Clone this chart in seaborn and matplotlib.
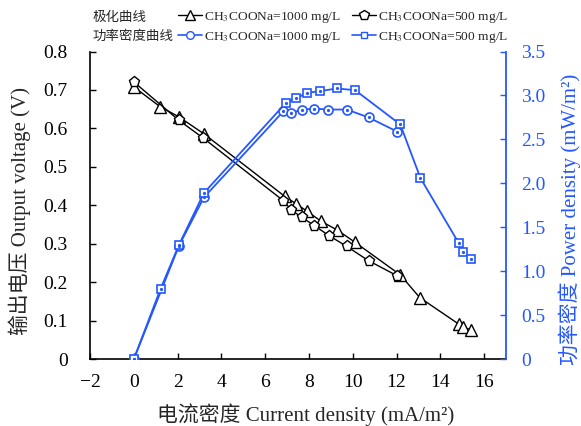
import numpy as np
import pandas as pd
import seaborn as sns
import matplotlib
matplotlib.use("Agg")
import matplotlib.pyplot as plt
from matplotlib.ticker import FuncFormatter
from matplotlib.lines import Line2D

# polarization curves (current density mA/m2, voltage V)
i_1000 = [0, 1.19, 2.06, 3.2, 6.9, 7.41, 7.93, 8.54, 9.28, 10.1, 12.17, 13.06, 14.84, 15.03, 15.42]
v_1000 = [0.708, 0.657, 0.63, 0.586, 0.423, 0.404, 0.384, 0.359, 0.336, 0.304, 0.219, 0.160, 0.091, 0.083, 0.076]
i_500 = [0, 2.06, 3.17, 6.83, 7.19, 7.67, 8.25, 8.92, 9.73, 10.72, 12.02]
v_500 = [0.721, 0.621, 0.575, 0.412, 0.388, 0.369, 0.347, 0.321, 0.293, 0.256, 0.217]

# power density curves (mW/m2)
p_circle_x = [0, 2.06, 3.2, 6.83, 7.19, 7.67, 8.24, 8.89, 9.73, 10.72, 12.02]
p_circle = [0, 1.29, 1.84, 2.82, 2.80, 2.84, 2.85, 2.84, 2.84, 2.75, 2.59]
p_square_x = [0, 1.22, 2.06, 3.2, 6.96, 7.41, 7.93, 8.51, 9.28, 10.11, 12.17, 13.09, 14.84, 15.03, 15.42]
p_square = [0, 0.80, 1.30, 1.89, 2.92, 2.97, 3.03, 3.05, 3.08, 3.06, 2.67, 2.06, 1.32, 1.22, 1.14]

sns.set_theme(style="ticks")
plt.rcParams['font.family'] = ['Liberation Serif', 'Noto Sans CJK SC']
plt.rcParams['mathtext.fontset'] = 'stix'
plt.rcParams['xtick.direction'] = 'in'
plt.rcParams['ytick.direction'] = 'in'

blue = '#2457ff'

fig = plt.figure(figsize=(5.81, 4.26), dpi=100)
ax = fig.add_axes([0.155, 0.157, 0.716, 0.722])
ax2 = ax.twinx()

sns.lineplot(x=i_1000, y=v_1000, ax=ax, color='black', lw=1.0, marker='^', ms=8,
             mfc='white', mec='black', mew=1.0, estimator=None, sort=False)
sns.lineplot(x=i_500, y=v_500, ax=ax, color='black', lw=1.0, marker='p', ms=8,
             mfc='white', mec='black', mew=1.0, estimator=None, sort=False)

sns.lineplot(x=p_circle_x, y=p_circle, ax=ax2, color=blue, lw=1.3, marker='o', ms=6.5,
             mfc='white', mec=blue, mew=1.2, estimator=None, sort=False)
sns.lineplot(x=p_square_x, y=p_square, ax=ax2, color=blue, lw=1.3, marker='s', ms=5.5,
             mfc='white', mec=blue, mew=1.2, estimator=None, sort=False)
# centre dots
ax2.plot(p_circle_x, p_circle, ls='none', marker='o', ms=1.3, color=blue)
ax2.plot(p_square_x, p_square, ls='none', marker='o', ms=1.3, color=blue)

ax.set_xlim(-2, 17)
ax.set_xticks(np.arange(-2, 17, 2))
ax.set_xticklabels([f"{t:d}".replace('-', '\u2212') for t in range(-2, 17, 2)])
ax.set_ylim(0, 0.8)
ax.set_yticks(np.arange(0, 0.81, 0.1))
ax2.set_ylim(0, 3.5)
ax2.set_yticks(np.arange(0, 3.51, 0.5))
fmt = FuncFormatter(lambda v, p: '0' if abs(v) < 1e-9 else f"{v:.1f}")
ax.yaxis.set_major_formatter(fmt)
ax2.yaxis.set_major_formatter(fmt)

for a in (ax, ax2):
    a.spines['top'].set_visible(False)
ax.spines['right'].set_visible(False)
ax2.spines['left'].set_visible(False)
ax2.spines['bottom'].set_visible(False)
for s in ('left', 'bottom'):
    ax.spines[s].set_color('black')
    ax.spines[s].set_linewidth(1.2)
ax2.spines['right'].set_color(blue)
ax2.spines['right'].set_linewidth(1.3)

ax.tick_params(axis='x', labelsize=14, length=4, width=1, colors='black', pad=11)
ax.tick_params(axis='y', labelsize=14, length=4, width=1, colors='black', pad=16)
ax2.tick_params(axis='y', labelsize=14, length=4, width=1, colors=blue, pad=11)

ax.set_xlabel("电流密度 Current density (mA/m²)", fontsize=15, va='center')
ax.xaxis.set_label_coords(0.519, -0.18)
ax.set_ylabel("输出电压 Output voltage (V)", fontsize=15, va='center')
ax.yaxis.set_label_coords(-0.168, 0.48)
ax2.set_ylabel("功率密度 Power density (mW/m²)", fontsize=15, color=blue, va='center')
ax2.yaxis.set_label_coords(1.154, 0.453)

# legend
fig.text(0.160, 0.958, "极化曲线", fontsize=9.7, va='center', ha='left')
fig.text(0.160, 0.913, "功率密度曲线", fontsize=9.7, va='center', ha='left')
handles = [
    Line2D([], [], color='black', lw=1.0, marker='^', ms=7, mfc='white', mec='black'),
    Line2D([], [], color=blue, lw=1.2, marker='o', ms=5.5, mfc='white', mec=blue),
    Line2D([], [], color='black', lw=1.0, marker='p', ms=7, mfc='white', mec='black'),
    Line2D([], [], color=blue, lw=1.2, marker='s', ms=5, mfc='white', mec=blue),
]
labels = [r"CH$_3$COONa=1000 mg/L", r"CH$_3$COONa=1000 mg/L",
          r"CH$_3$COONa=500 mg/L", r"CH$_3$COONa=500 mg/L"]
fig.legend(handles, labels, ncol=2, loc='center left', bbox_to_anchor=(0.306, 0.936),
           frameon=False, fontsize=9.7, handlelength=1.8, handletextpad=0.15,
           columnspacing=0.8, labelspacing=0.4, borderpad=0, borderaxespad=0)

fig.savefig("out.png", dpi=100)
